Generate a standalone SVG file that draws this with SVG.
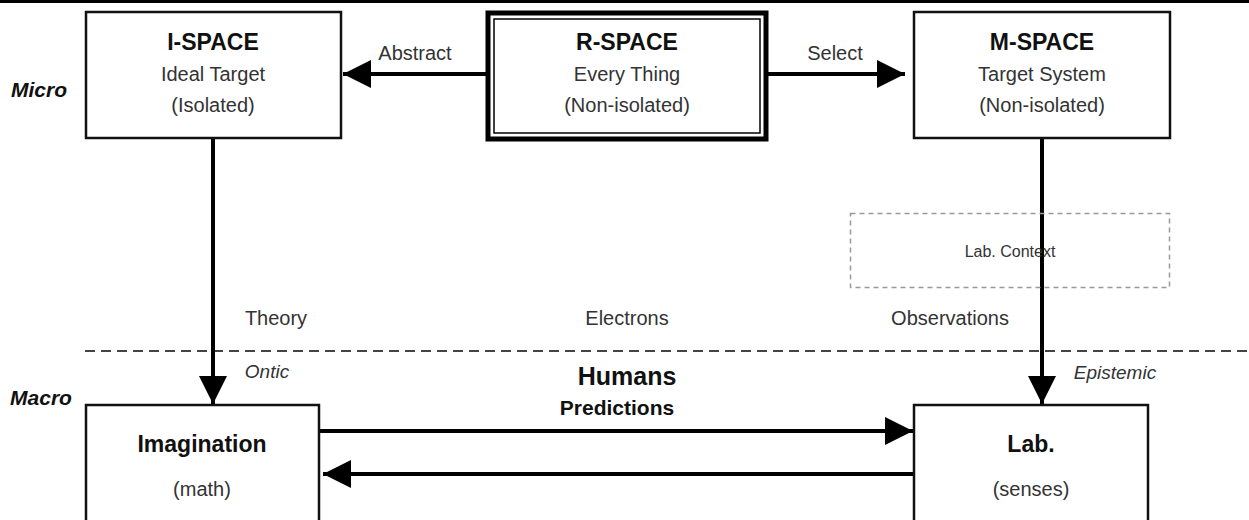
<svg xmlns="http://www.w3.org/2000/svg" width="1249" height="520" viewBox="0 0 1249 520">
<style>
text{font-family:"Liberation Sans",Arial,sans-serif;fill:#222;text-anchor:middle}
.t{font-weight:bold;font-size:23px;fill:#111}
.s{font-size:20px;fill:#333}
.lab{font-weight:bold;font-style:italic;font-size:21px;fill:#111}
.it{font-style:italic;font-size:19px;fill:#333}
.box{fill:#fff;stroke:#111;stroke-width:2.5}
.ln{stroke:#000;stroke-width:4;fill:none}
</style>
<defs>
<marker id="ah" viewBox="0 0 10 10" refX="10" refY="5" markerWidth="8" markerHeight="7" markerUnits="strokeWidth" orient="auto">
<path d="M0,0 L10,5 L0,10 Z" fill="#000"/>
</marker>
</defs>
<rect x="0" y="0" width="1249" height="520" fill="#fff"/>
<rect x="0" y="0" width="1249" height="3" fill="#000"/>
<line x1="85" y1="351" x2="1249" y2="351" stroke="#444" stroke-width="2" stroke-dasharray="10,6"/>
<g id="connectors">
<line class="ln" x1="486" y1="74" x2="343" y2="74" marker-end="url(#ah)"/>
<line class="ln" x1="768" y1="74" x2="905" y2="74" marker-end="url(#ah)"/>
<line class="ln" x1="213" y1="139" x2="213" y2="404" marker-end="url(#ah)"/>
<line class="ln" x1="1042" y1="139" x2="1042" y2="404" marker-end="url(#ah)"/>
<line class="ln" x1="320" y1="431" x2="913" y2="431" marker-end="url(#ah)"/>
<line class="ln" x1="914" y1="474" x2="323" y2="474" marker-end="url(#ah)"/>
</g>
<g id="ispace">
<rect class="box" x="86" y="12" width="255" height="126"/>
<text class="t" x="213" y="50">I-SPACE</text>
<text class="s" x="213" y="81">Ideal Target</text>
<text class="s" x="213" y="112">(Isolated)</text>
</g>
<g id="rspace">
<rect x="488" y="13" width="278" height="126" fill="#fff" stroke="#000" stroke-width="5"/>
<rect x="494" y="19" width="266" height="114" fill="none" stroke="#000" stroke-width="1.5"/>
<text class="t" x="627" y="50">R-SPACE</text>
<text class="s" x="627" y="81">Every Thing</text>
<text class="s" x="627" y="112">(Non-isolated)</text>
</g>
<g id="mspace">
<rect class="box" x="914" y="12" width="256" height="126"/>
<text class="t" x="1042" y="50">M-SPACE</text>
<text class="s" x="1042" y="81">Target System</text>
<text class="s" x="1042" y="112">(Non-isolated)</text>
</g>
<g id="labcontext">
<rect x="850.5" y="213.5" width="319" height="74" fill="none" stroke="#999" stroke-width="1.5" stroke-dasharray="5,4"/>
<text x="1010" y="257" style="font-size:16px;fill:#333">Lab. Context</text>
</g>
<g id="imagination">
<rect class="box" x="86" y="405" width="233" height="130"/>
<text class="t" x="202" y="452">Imagination</text>
<text class="s" x="202" y="496">(math)</text>
</g>
<g id="lab">
<rect class="box" x="914" y="405" width="234" height="130"/>
<text class="t" x="1031" y="452">Lab.</text>
<text class="s" x="1031" y="496">(senses)</text>
</g>
<g id="labels">
<text class="s" x="415" y="60">Abstract</text>
<text class="s" x="835" y="60">Select</text>
<text class="lab" x="39" y="97">Micro</text>
<text class="lab" x="41" y="405">Macro</text>
<text class="s" x="276" y="325">Theory</text>
<text class="s" x="627" y="325">Electrons</text>
<text class="s" x="950" y="325">Observations</text>
<text class="it" x="267" y="378">Ontic</text>
<text class="it" x="1115" y="379">Epistemic</text>
<text x="627" y="385" style="font-weight:bold;font-size:25px;fill:#111">Humans</text>
<text x="617" y="415" style="font-weight:bold;font-size:21px;fill:#111">Predictions</text>
</g>
</svg>
